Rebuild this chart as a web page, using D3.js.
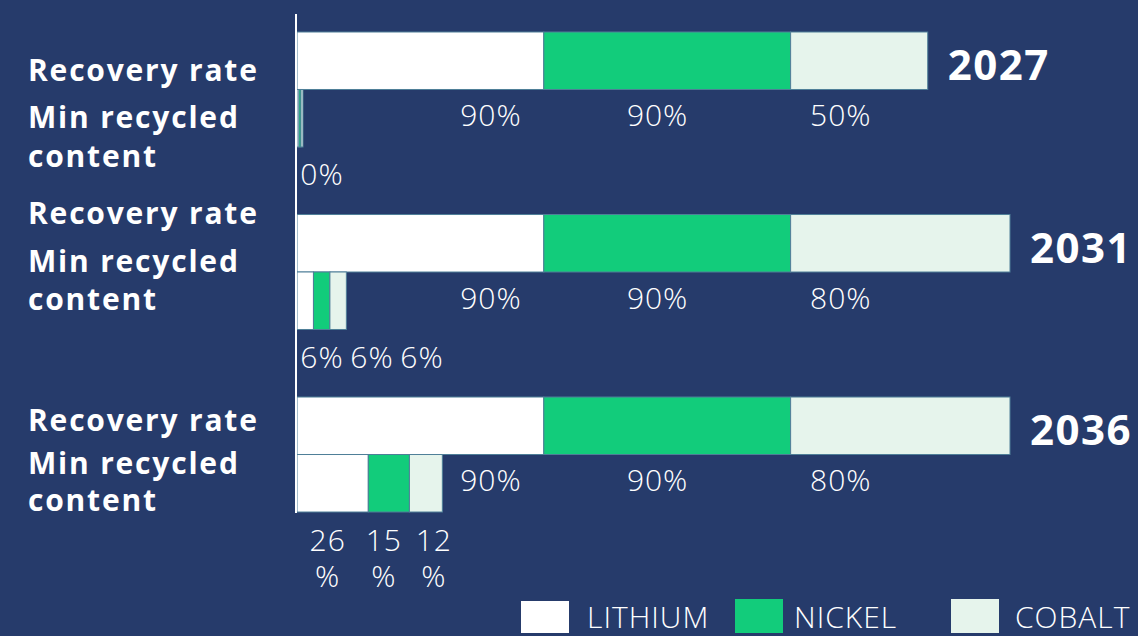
<!DOCTYPE html>
<html><head><meta charset="utf-8">
<script src="https://cdn.jsdelivr.net/npm/d3@7"></script>
<style>
html,body{margin:0;padding:0;background:#263B6B;}
svg{display:block;}
</style></head>
<body>
<svg id="chart" width="1138" height="636"></svg>
<script>
// ---- data ----
const years = ["2027", "2031", "2036"];
const metrics = ["Recovery rate", "Min recycled content"];
const materials = ["LITHIUM", "NICKEL", "COBALT"];
const recoveryRate = [[90, 90, 50], [90, 90, 80], [90, 90, 80]];
const minRecycled = [[0, 0, 0], [6, 6, 6], [26, 15, 12]];

// ---- style ----
const colors = ["#FFFFFF", "#12CC7B", "#E6F4EC"];
const BG = "#263B6B";
const FONT = "'Open Sans', 'Noto Sans', sans-serif";

const svg = d3.select("#chart");
svg.append("rect").attr("width", 1138).attr("height", 636).attr("fill", BG);

const x = d3.scaleLinear().domain([0, 260]).range([297, 1010]);
const yYear = d3.scaleBand().domain(years).range([32, 512]).paddingInner(0.37).paddingOuter(0);
const yMetric = d3.scaleBand().domain(metrics).range([0, yYear.bandwidth()]);

// rows
const rows = [];
years.forEach((yr, i) => {
  rows.push({year: yr, metric: metrics[0], values: recoveryRate[i]});
  rows.push({year: yr, metric: metrics[1], values: minRecycled[i]});
});

// bars
rows.forEach(r => {
  let cursor = x(0);
  const y0 = yYear(r.year) + yMetric(r.metric);
  r.segs = r.values.map((v, k) => {
    const w = Math.max(x(v) - x(0), 2);
    const s = {x0: cursor, w, v, k};
    cursor += w;
    return s;
  });
  const g = svg.append("g");
  g.selectAll("rect").data(r.segs).join("rect")
    .attr("x", d => d.x0).attr("y", y0)
    .attr("width", d => d.w).attr("height", yMetric.bandwidth())
    .attr("fill", d => colors[d.k])
    .attr("stroke", "#4F7F98").attr("stroke-width", 1);
});

// axis line
svg.append("line").attr("x1", 296).attr("x2", 296)
  .attr("y1", 14).attr("y2", yYear("2036") + yYear.bandwidth() + 1)
  .attr("stroke", "#FFFFFF").attr("stroke-width", 2);

// recovery value labels
const labelShift = [70.7, 41.5, 18.3];
rows.filter(r => r.metric === metrics[0]).forEach(r => {
  let cum = 0;
  const yc = yYear(r.year) + yMetric(metrics[1]) + 25;
  r.values.forEach((v, k) => {
    svg.append("text")
      .attr("x", x(cum + labelShift[k])).attr("y", yc)
      .attr("text-anchor", "middle").attr("dominant-baseline", "central")
      .attr("font-family", FONT).attr("font-weight", 300).attr("font-size", 30)
      .attr("letter-spacing", 1)
      .attr("fill", "#FFFFFF").text(v + "%");
    cum += v;
  });
  // year label
  svg.append("text")
    .attr("x", x(d3.sum(r.values)) + 20)
    .attr("y", yYear(r.year) + yMetric(metrics[0]) + yMetric.bandwidth() / 2 + 3)
    .attr("dominant-baseline", "central")
    .attr("font-family", FONT).attr("font-weight", 700).attr("font-size", 42)
    .attr("letter-spacing", 1.5)
    .attr("fill", "#FFFFFF").text(r.year);
});

// min recycled labels
rows.filter(r => r.metric === metrics[1]).forEach(r => {
  const yc = yYear(r.year) + yMetric(metrics[1]) + yMetric.bandwidth() + 27;
  let prev = -Infinity;
  const allZero = r.values.every(v => v === 0);
  r.segs.forEach((s, k) => {
    let cx = Math.max(s.x0 + s.w / 2 - 5, 322, prev + 50);
    prev = cx;
    if (allZero && k > 0) return;
    const t = svg.append("text")
      .attr("text-anchor", "middle")
      .attr("font-family", FONT).attr("font-weight", 300).attr("font-size", 30)
      .attr("letter-spacing", 1)
      .attr("fill", "#FFFFFF");
    if (String(s.v).length > 1) {
      t.append("tspan").attr("x", cx).attr("y", yc).attr("dominant-baseline", "central").text(String(s.v));
      t.append("tspan").attr("x", cx).attr("y", yc + 36).attr("dominant-baseline", "central").text("%");
    } else {
      t.append("tspan").attr("x", cx).attr("y", yc).attr("dominant-baseline", "central").text(s.v + "%");
    }
  });
});

// left category labels
const leftOffsets = [[37, 84, 123], [-2, 45.5, 84], [22, 65, 102]];
const leftLines = ["Recovery rate", "Min recycled", "content"];
years.forEach((yr, i) => {
  leftLines.forEach((txt, j) => {
    svg.append("text")
      .attr("x", 28).attr("y", yYear(yr) + leftOffsets[i][j])
      .attr("dominant-baseline", "central")
      .attr("font-family", FONT).attr("font-weight", 700).attr("font-size", 30)
      .attr("letter-spacing", 1.8)
      .attr("fill", "#FFFFFF").text(txt);
  });
});

// legend
const legendSwatchX = [521, 735, 951];
const legendTextX = [587, 794, 1015];
materials.forEach((m, k) => {
  svg.append("rect").attr("x", legendSwatchX[k]).attr("y", k === 0 ? 601 : 599)
    .attr("width", 48).attr("height", k === 0 ? 32 : 34).attr("fill", colors[k]);
  svg.append("text").attr("x", legendTextX[k]).attr("y", 628)
    .attr("font-family", FONT).attr("font-weight", 300).attr("font-size", 30)
    .attr("letter-spacing", 1)
    .attr("fill", "#FFFFFF").text(m);
});
</script>
</body></html>
